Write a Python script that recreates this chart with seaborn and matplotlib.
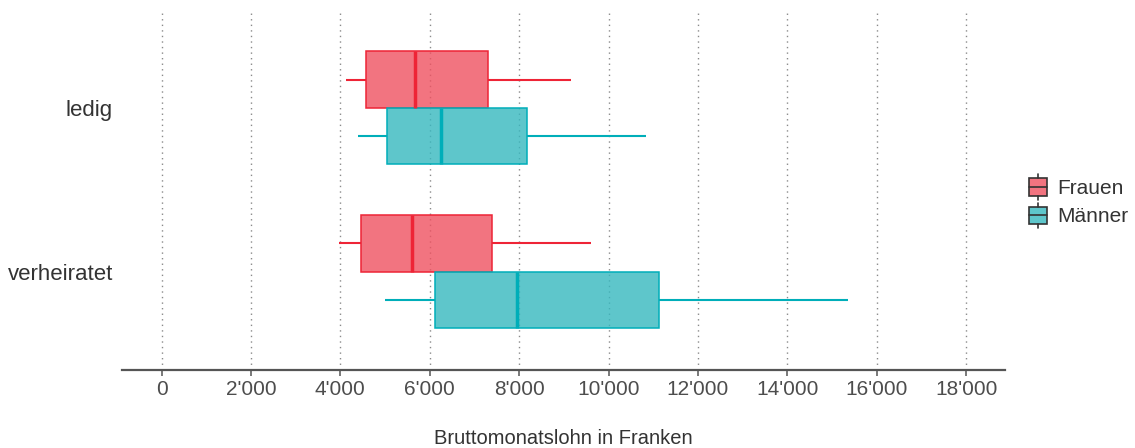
import numpy as np
import pandas as pd
import seaborn as sns
import matplotlib.pyplot as plt
from matplotlib.colors import to_rgba
from matplotlib.lines import Line2D
from matplotlib.patches import Patch, Rectangle
from matplotlib.legend_handler import HandlerBase
from matplotlib.ticker import FuncFormatter, MultipleLocator

# Werte: Min, Q1, Median, Q3, Max (Franken)
zivilstand = ["ledig", "verheiratet"]
geschlecht = ["Frauen", "Männer"]
ledig_frauen = [4120, 4580, 5670, 7300, 9170]
ledig_maenner = [4390, 5050, 6250, 8170, 10830]
verh_frauen = [3960, 4460, 5600, 7400, 9610]
verh_maenner = [5010, 6120, 7960, 11130, 15360]

# Füllfarbe halbtransparent, Linienfarbe deckend
fill_farben = {"Frauen": "#EF5160", "Männer": "#36B8BF"}
linien_farben = {"Frauen": "#EE2436", "Männer": "#00AEB9"}
alpha = 0.8

rows = []
for z, g, werte in [("ledig", "Frauen", ledig_frauen), ("ledig", "Männer", ledig_maenner),
                    ("verheiratet", "Frauen", verh_frauen), ("verheiratet", "Männer", verh_maenner)]:
    for w in werte:
        rows.append({"zivilstand": z, "geschlecht": g, "lohn": w})
df = pd.DataFrame(rows)

sns.set_theme(style="white")
plt.rcParams["font.family"] = ["Liberation Sans", "DejaVu Sans"]

fig = plt.figure(figsize=(11.35, 4.48), dpi=100)
ax = fig.add_axes([0.1075, 0.174, 0.778, 0.8046])

for g in geschlecht:
    sub = df[df["geschlecht"] == g]
    n_vorher = len(ax.patches)
    sns.boxplot(data=sub, x="lohn", y="zivilstand", hue="geschlecht",
                order=zivilstand, hue_order=geschlecht, orient="h",
                palette=fill_farben, saturation=1, linecolor=linien_farben[g], width=0.69,
                gap=0, dodge=True, whis=(0, 100), showcaps=False, showfliers=False,
                linewidth=1.1, medianprops={"linewidth": 2.5},
                whiskerprops={"linewidth": 1.5}, legend=False, ax=ax)
    for p in ax.patches[n_vorher:]:
        p.set_facecolor(to_rgba(fill_farben[g], alpha))


ax.set_xlim(-884, 18870)
ax.set_ylim(1.6, -0.6)
ax.xaxis.set_major_locator(MultipleLocator(2000))
ax.xaxis.set_major_formatter(FuncFormatter(lambda v, p: f"{int(v):,}".replace(",", "'")))
ax.grid(axis="x", color="#8a8a8a", linestyle=(0, (1, 3)), linewidth=1)
ax.set_axisbelow(True)
for s in ["top", "right", "left"]:
    ax.spines[s].set_visible(False)
ax.spines["bottom"].set_color("#555555")
ax.spines["bottom"].set_linewidth(1.6)
ax.tick_params(axis="x", which="major", bottom=True, length=4.5, width=1.1, color="#555555",
               labelsize=15, labelcolor="#4d4d4d", pad=3)
ax.tick_params(axis="y", left=False, length=0, labelsize=16, labelcolor="#333333", pad=6.5)
ax.set_ylabel("")
ax.set_xlabel("Bruttomonatslohn in Franken", fontsize=14.5, color="#333333", labelpad=21)


class BoxKey(HandlerBase):
    # Legendensymbol wie ein kleiner stehender Boxplot
    def create_artists(self, legend, orig_handle, xdescent, ydescent, width, height,
                       fontsize, trans):
        x0, y0 = -xdescent, -ydescent
        unten, oben = y0 + 0.16 * height, y0 + 0.84 * height
        xm = x0 + width / 2
        rect = Rectangle((x0, unten), width, oben - unten, facecolor=orig_handle.get_facecolor(),
                         edgecolor="#333333", linewidth=1.2, transform=trans)
        med = Line2D([x0, x0 + width], [(unten + oben) / 2] * 2, color="#333333", lw=1.2,
                     transform=trans)
        w1 = Line2D([xm, xm], [y0, unten], color="#333333", lw=1.2, transform=trans)
        w2 = Line2D([xm, xm], [oben, y0 + height], color="#333333", lw=1.2, transform=trans)
        return [rect, med, w1, w2]


handles = [Patch(facecolor=to_rgba(fill_farben[g], alpha), label=g) for g in geschlecht]
fig.legend(handles=handles, loc="center left", bbox_to_anchor=(0.907, 0.551), frameon=False,
           fontsize=15, handlelength=0.85, handleheight=1.5, handletextpad=0.5,
           labelspacing=0.15, borderpad=0, borderaxespad=0, labelcolor="#333333",
           handler_map={Patch: BoxKey()})

fig.savefig("out.png", dpi=100)
